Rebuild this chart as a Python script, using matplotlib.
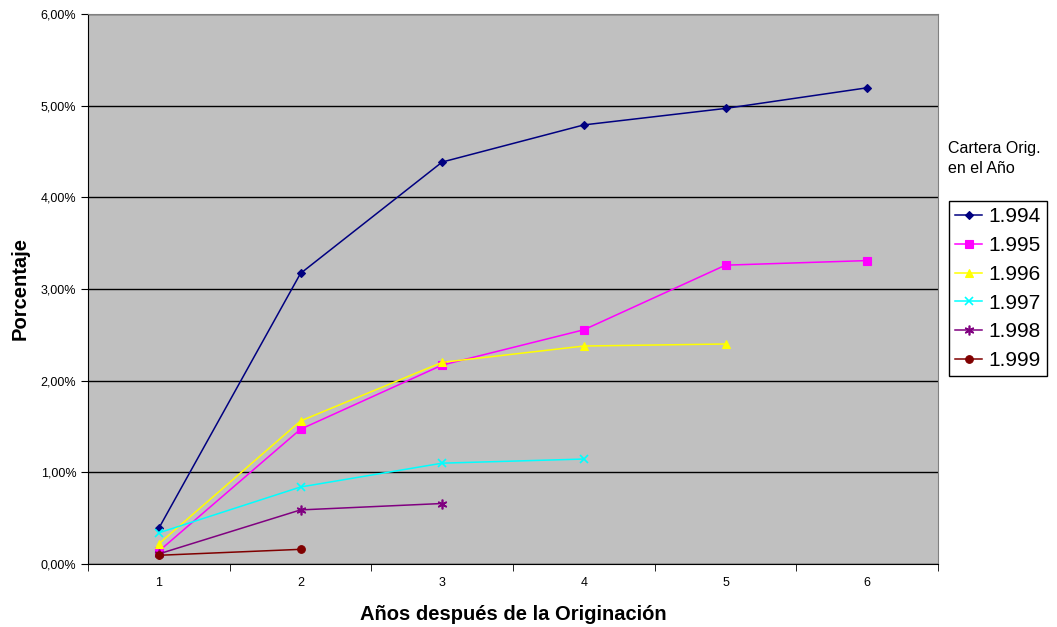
import matplotlib
matplotlib.use("Agg")
import matplotlib.pyplot as plt
from matplotlib.ticker import FuncFormatter, FixedLocator

plt.rcParams['font.family'] = ['Liberation Sans', 'DejaVu Sans']

years_after = [1, 2, 3, 4, 5, 6]
series_labels = ["1.994", "1.995", "1.996", "1.997", "1.998", "1.999"]
v1994 = [0.39, 3.17, 4.385, 4.79, 4.97, 5.195]
v1995 = [0.14, 1.47, 2.17, 2.555, 3.26, 3.31]
v1996 = [0.22, 1.56, 2.20, 2.378, 2.40]
v1997 = [0.34, 0.84, 1.10, 1.145]
v1998 = [0.11, 0.59, 0.66]
v1999 = [0.095, 0.16]
yticks = [0, 1, 2, 3, 4, 5, 6]

series = [v1994, v1995, v1996, v1997, v1998, v1999]
colors = ['#000080', '#FF00FF', '#FFFF00', '#00FFFF', '#800080', '#800000']
markers = ['D', 's', '^', 'x', (6, 2, 0), 'o']
msizes = [4.5, 5.5, 6, 6, 7, 5.5]

fig = plt.figure(figsize=(10.57, 6.27), dpi=100)
ax = fig.add_axes([88/1057, 1-564/627, (938-88)/1057, (564-14)/627])
ax.set_facecolor('#C0C0C0')

for vals, lab, c, m, ms in zip(series, series_labels, colors, markers, msizes):
    xs = years_after[:len(vals)]
    ax.plot(xs, vals, color=c, marker=m, markersize=ms, lw=1.1, label=lab,
            markeredgewidth=1.2 if m in ('x', (6, 2, 0)) else 0.8, zorder=3)

ax.set_xlim(0.5, 6.5)
ax.set_ylim(0, 6)
ax.set_yticks(yticks)
ax.yaxis.set_major_formatter(FuncFormatter(lambda v, p: f"{v:.2f}".replace('.', ',') + "%"))
ax.set_xticks(years_after)
ax.xaxis.set_minor_locator(FixedLocator([0.5 + k for k in range(7)]))
ax.tick_params(axis='x', which='major', length=0, labelsize=9, pad=9)
ax.tick_params(axis='x', which='minor', length=5, direction='out', color='black')
ax.tick_params(axis='y', which='major', length=5, direction='out', labelsize=9, color='black')
ax.grid(axis='y', color='black', lw=1, zorder=1)

for s in ['top', 'right']:
    ax.spines[s].set_color('#808080')
for s in ['left', 'bottom']:
    ax.spines[s].set_color('black')

ax.set_xlabel('Años después de la Originación', fontsize=14.5, fontweight='bold', labelpad=12)
ax.set_ylabel('Porcentaje', fontsize=14.5, fontweight='bold', labelpad=8)

fig.text(948/1057, 1-148/627, 'Cartera Orig.', fontsize=11.5, va='center', ha='left')
fig.text(948/1057, 1-168/627, 'en el Año', fontsize=11.5, va='center', ha='left')

leg = fig.legend(loc='upper left', bbox_to_anchor=(949/1057, 1-201/627),
                 bbox_transform=fig.transFigure, borderaxespad=0, fontsize=15,
                 frameon=True, fancybox=False, edgecolor='black', framealpha=1,
                 handlelength=1.3, labelspacing=0.47, handletextpad=0.3,
                 borderpad=0.3)
leg.get_frame().set_linewidth(1)

fig.savefig('out.png', dpi=100)
